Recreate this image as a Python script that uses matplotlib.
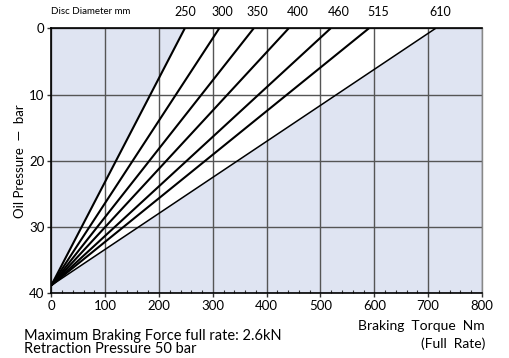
import matplotlib
matplotlib.use("Agg")
import matplotlib.pyplot as plt
from matplotlib.ticker import MultipleLocator
from matplotlib import font_manager as fm

disc_labels = ["250", "300", "350", "400", "460", "515", "610"]
torque_at_zero_bar = [248, 312, 376, 441, 519, 590, 714]
label_x = [249, 318, 383, 458, 534, 608, 722]
origin_pressure = 38.8
x_ticks = [0, 100, 200, 300, 400, 500, 600, 700, 800]
y_ticks = [0, 10, 20, 30, 40]

names = {f.name for f in fm.fontManager.ttflist}
base = "Lato" if "Lato" in names else "DejaVu Sans"
narrow = base

bg = "#dfe4f2"
fig = plt.figure(figsize=(5.10, 3.58), dpi=100)
ax = fig.add_axes([0.1006, 0.1807, 0.8445, 0.7403])
ax.set_facecolor(bg)
ax.set_xlim(0, 800)
ax.set_ylim(40, 0)

# white region between first and last lines
ax.fill([0, torque_at_zero_bar[0], torque_at_zero_bar[-1]],
        [origin_pressure, 0, 0], color="white", zorder=1, lw=0)

ax.set_xticks(x_ticks)
ax.set_yticks(y_ticks)
ax.xaxis.set_minor_locator(MultipleLocator(20))
ax.grid(True, which="major", color="#555555", lw=1.0, zorder=2)
ax.set_axisbelow(False)
for i, t in enumerate(torque_at_zero_bar):
    ax.plot([0, t], [origin_pressure, 0], color="black",
            lw=1.5 if i < len(torque_at_zero_bar) - 1 else 1.1,
            zorder=3, solid_capstyle="butt")

ax.tick_params(axis="both", which="major", length=3, width=1, direction="out",
               labelsize=9.5, pad=2, color="#333333")
ax.tick_params(axis="x", which="minor", length=2.5, width=0.8, direction="in",
               color="#333333")
for lab in ax.get_xticklabels() + ax.get_yticklabels():
    lab.set_fontfamily(base)
for s in ["left", "bottom", "top"]:
    ax.spines[s].set_color("black")
    ax.spines[s].set_linewidth(1.2)
ax.spines["right"].set_color("#888888")
ax.spines["right"].set_linewidth(1.0)
for s in ax.spines.values():
    s.set_zorder(4)

for lx, lab in zip(label_x, disc_labels):
    ax.text(lx, -2.4, lab, ha="center", va="center", fontsize=9,
            family=base, clip_on=False)
ax.text(0, -2.5, "Disc Diameter mm", ha="left", va="center", fontsize=7,
        family=narrow, clip_on=False)

ax.set_ylabel("Oil Pressure  —  bar", family=narrow, fontsize=9.5, labelpad=2)

fig.text(485 / 510, 1 - 330 / 358, "Braking  Torque  Nm", ha="right",
         va="baseline", family=narrow, fontsize=10)
fig.text(485 / 510, 1 - 348 / 358, "(Full  Rate)", ha="right",
         va="baseline", family=narrow, fontsize=10)
fig.text(24 / 510, 1 - 340 / 358, "Maximum Braking Force full rate: 2.6kN",
         ha="left", va="baseline", family=base, fontsize=10.5)
fig.text(24 / 510, 1 - 353 / 358, "Retraction Pressure 50 bar",
         ha="left", va="baseline", family=base, fontsize=10.5)

fig.savefig("out.png", dpi=100)
